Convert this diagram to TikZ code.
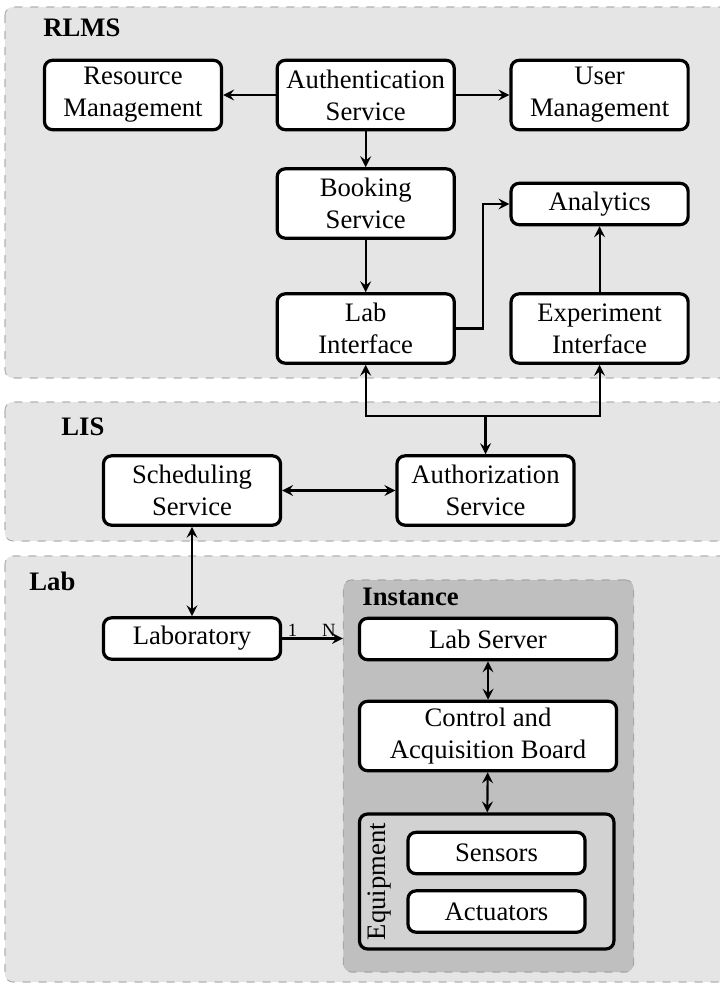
\documentclass[tikz,border=0pt]{standalone}
\usepackage{fontspec}
\setmainfont{Liberation Serif}
\usetikzlibrary{arrows.meta}
\begin{document}
\begin{tikzpicture}[
        x=0.375pt, y=-0.375pt,
        box/.style={rectangle, rounded corners=3pt, draw, very thick, fill=white, minimum width=66.4pt, minimum height=26pt, inner sep=2pt, align=center},
        small/.style={box, minimum height=15.5pt},
        wide/.style={box, minimum width=96.4pt},
        layer/.style={draw=gray!60, dashed, fill=gray!20, rounded corners=3pt},
        inst/.style={rectangle, draw=gray!70, dashed, fill=gray!50, rounded corners=3pt, minimum width=108.8pt, minimum height=147pt},
        equip/.style={rectangle, draw, very thick, fill=gray!35, rounded corners=3pt, minimum width=95.4pt, minimum height=50.6pt},
        title/.style={font=\bfseries, anchor=west},
        arrow/.style={->, >=stealth, thick},
        darrow/.style={<->, >=stealth, thick}
    ]
    \useasboundingbox (0,0) rectangle (720,984);
    \clip (0,0) rectangle (720,984);

    % layers
    \draw[layer] (5,7) rectangle (740,378);
    \draw[layer] (5,402) rectangle (740,541);
    \draw[layer] (5,556) rectangle (740,982);
    \node[title] (rlms) at (34,28) {RLMS};
    \node[title] (lis) at (52,427) {LIS};
    \node[title] (labl) at (20,581) {Lab};

    % RLMS
    \node[box] (rm) at (133,95) {Resource\\Management};
    \node[box] (auth) at (365.7,95) {Authentication\\Service};
    \node[box] (um) at (599.6,95) {User\\Management};
    \node[box] (booking) at (365.7,203.5) {Booking\\Service};
    \node[small] (analytics) at (599.6,204) {Analytics};
    \node[box] (labif) at (365.7,328.5) {Lab\\Interface};
    \node[box] (expif) at (599.6,328.5) {Experiment\\Interface};

    \draw[arrow] (auth) -- (rm);
    \draw[arrow] (auth) -- (um);
    \draw[arrow] (auth) -- (booking);
    \draw[arrow] (booking) -- (labif);
    \draw[arrow] (labif.east) -- ++(27.5,0) |- (analytics.west);
    \draw[arrow] (expif) -- (analytics);

    % LIS
    \node[box] (sched) at (192,490.5) {Scheduling\\Service};
    \node[box] (authz) at (485.5,490.5) {Authorization\\Service};
    \coordinate (jn) at (authz.north |- 0,416);

    \draw[darrow] (labif.south) |- (jn) -| (expif.south);
    \draw[arrow] (jn) -- (authz.north);
    \draw[darrow] (sched) -- (authz);

    % Lab
    \node[small] (lab) at (192,638.5) {Laboratory};
    \node[inst] (inst) at (488.5,776) {};
    \node[title] (instl) at (353,597) {Instance};
    \node[wide, minimum height=15.5pt] (labsrv) at (488,639) {Lab Server};
    \node[wide] (cab) at (488,736) {Control and\\Acquisition Board};
    \node[equip] (equipment) at (486.7,881.5) {};
    \node[rotate=90] (equipl) at (380,881.5) {Equipment};
    \node[small] (sensors) at (496.5,853) {Sensors};
    \node[small] (actuators) at (496.5,911.5) {Actuators};

    \draw[darrow] (sched) -- (lab);
    \draw[arrow] (lab.east) -- (lab.east -| inst.west)
        node[pos=0.17, above, inner sep=0.5pt, font=\scriptsize] {1}
        node[pos=0.77, above, inner sep=0.5pt, font=\scriptsize] {N};
    \draw[darrow] (labsrv) -- (cab);
    \draw[darrow] (cab) -- (equipment);

\end{tikzpicture}
\end{document}
